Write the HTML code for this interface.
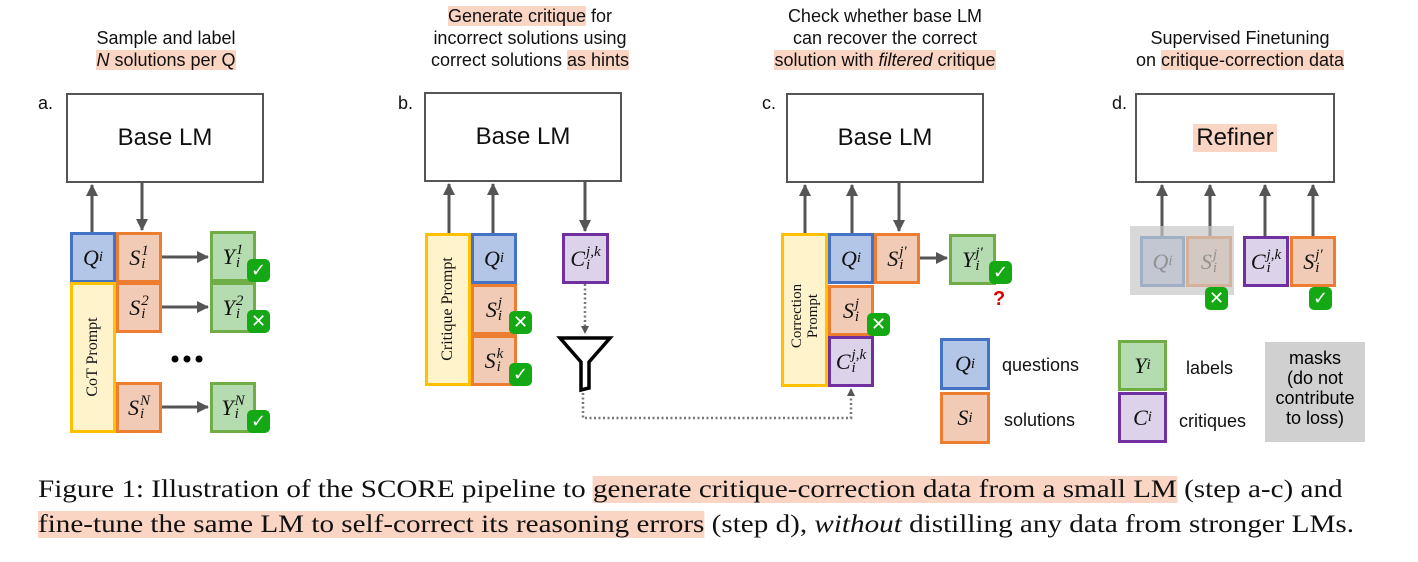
<!DOCTYPE html>
<html><head><meta charset="utf-8"><style>
body{margin:0;width:1418px;height:562px;background:#fff;position:relative;overflow:hidden;font-family:"Liberation Sans",sans-serif;}
.a{position:absolute;}
.t{position:absolute;font-size:18px;color:#111;text-align:center;line-height:22px;white-space:nowrap}
.h{background:#fbd5c4;}
.lm{position:absolute;box-sizing:border-box;border:2px solid #555;background:#fff;display:flex;align-items:center;justify-content:center;font-size:24px;color:#111}
.b{position:absolute;box-sizing:border-box;border:3px solid;display:flex;align-items:center;justify-content:center;font:italic 22px "Liberation Serif",serif;color:#111}
.q{background:#b4c6e7;border-color:#4472c4}
.s{background:#f1cbb5;border-color:#ed7d31}
.y{background:#b5dbb0;border-color:#70ad47}
.c{background:#dcd3ea;border-color:#7030a0}
.p{background:#fff3cc;border-color:#ffc000}
.st{display:inline-flex;flex-direction:column;font-size:15px;line-height:13px;margin-left:1px}
.ck{position:absolute;width:23px;height:23px;border-radius:5px;background:#14a814;color:#fff;font:bold 18px "DejaVu Sans",sans-serif;display:flex;align-items:center;justify-content:center}
.vt{position:absolute;font:16px "Liberation Serif",serif;color:#111;transform:rotate(-90deg);white-space:nowrap;text-align:center;line-height:18px}
.lg{position:absolute;font-size:18px;color:#111}
.cap{position:absolute;left:38px;font:25px "Liberation Serif",serif;color:#111;white-space:nowrap;transform-origin:0 0;transform:scaleX(1.165)}
sub{font-size:15px}
</style></head><body>

<div class="t" style="left:56px;top:27px;width:220px">Sample and label<br><span class="h"><i>N</i> solutions per Q</span></div>
<div class="t" style="left:400px;top:5px;width:260px"><span class="h">Generate critique</span> for<br>incorrect solutions using<br>correct solutions <span class="h">as hints</span></div>
<div class="t" style="left:750px;top:5px;width:270px">Check whether base LM<br>can recover the correct<br><span class="h">solution with <i>filtered</i> critique</span></div>
<div class="t" style="left:1110px;top:27px;width:260px">Supervised Finetuning<br>on <span class="h">critique-correction data</span></div>

<div class="t" style="left:38px;top:92px;font-size:18px">a.</div>
<div class="t" style="left:398px;top:92px;font-size:18px">b.</div>
<div class="t" style="left:762px;top:92px;font-size:18px">c.</div>
<div class="t" style="left:1112px;top:92px;font-size:18px">d.</div>

<div class="lm" style="left:66px;top:93px;width:198px;height:90px">Base LM</div>
<div class="lm" style="left:424px;top:92px;width:198px;height:90px">Base LM</div>
<div class="lm" style="left:786px;top:93px;width:198px;height:90px">Base LM</div>
<div class="lm" style="left:1135px;top:93px;width:200px;height:90px"><span class="h" style="padding:0 3px">Refiner</span></div>

<svg class="a" style="left:0;top:0" width="1418" height="562">
<defs><marker id="m" markerWidth="8" markerHeight="8" refX="7" refY="4" orient="auto" markerUnits="userSpaceOnUse"><path d="M0,0L8,4L0,8z" fill="#555"/></marker>
<marker id="M" markerWidth="12" markerHeight="12" refX="11" refY="6" orient="auto" markerUnits="userSpaceOnUse"><path d="M0,0L12,6L0,12z" fill="#555"/></marker></defs>
<g stroke="#555" stroke-width="3" fill="none">
<line x1="92" y1="232" x2="92" y2="185" marker-end="url(#M)"/>
<line x1="142" y1="183" x2="142" y2="230" marker-end="url(#M)"/>
<line x1="162" y1="257" x2="208" y2="257" marker-end="url(#M)"/>
<line x1="162" y1="307" x2="208" y2="307" marker-end="url(#M)"/>
<line x1="162" y1="407" x2="208" y2="407" marker-end="url(#M)"/>
<line x1="449" y1="233" x2="449" y2="184" marker-end="url(#M)"/>
<line x1="493" y1="233" x2="493" y2="184" marker-end="url(#M)"/>
<line x1="585" y1="182" x2="585" y2="231" marker-end="url(#M)"/>
<line x1="805" y1="233" x2="805" y2="185" marker-end="url(#M)"/>
<line x1="852" y1="233" x2="852" y2="185" marker-end="url(#M)"/>
<line x1="899" y1="183" x2="899" y2="231" marker-end="url(#M)"/>
<line x1="920" y1="258" x2="947" y2="258" marker-end="url(#M)"/>
<line x1="1162" y1="236" x2="1162" y2="185" marker-end="url(#M)"/>
<line x1="1210" y1="236" x2="1210" y2="185" marker-end="url(#M)"/>
<line x1="1265" y1="236" x2="1265" y2="185" marker-end="url(#M)"/>
<line x1="1313" y1="236" x2="1313" y2="185" marker-end="url(#M)"/>
</g>
<g stroke="#777" stroke-width="2.5" stroke-dasharray="2,2.5" fill="none">
<line x1="585" y1="284" x2="585" y2="333" marker-end="url(#m)"/>
<polyline points="583,393 583,418 851,418 851,389" marker-end="url(#m)"/>
</g>
<path d="M560,338 L610,338 L589,362 L589,388 L581,390 L581,362 Z" fill="#fff" stroke="#000" stroke-width="3.5" stroke-linejoin="miter"/>
<circle cx="175" cy="359" r="3.5" fill="#000"/><circle cx="187" cy="359" r="3.5" fill="#000"/><circle cx="199" cy="359" r="3.5" fill="#000"/>
</svg>

<div class="b q" style="left:70px;top:232px;width:46px;height:51px">Q<sub>i</sub></div>
<div class="b s" style="left:116px;top:232px;width:46px;height:51px">S<span class="st"><span>1</span><span>i</span></span></div>
<div class="b p" style="left:70px;top:282px;width:46px;height:151px"></div>
<div class="vt" style="left:33px;top:348px;width:120px">CoT Prompt</div>
<div class="b s" style="left:116px;top:282px;width:46px;height:51px">S<span class="st"><span>2</span><span>i</span></span></div>
<div class="b s" style="left:116px;top:382px;width:46px;height:51px">S<span class="st"><span>N</span><span>i</span></span></div>
<div class="b y" style="left:210px;top:231px;width:46px;height:51px">Y<span class="st"><span>1</span><span>i</span></span></div>
<div class="b y" style="left:210px;top:282px;width:46px;height:51px">Y<span class="st"><span>2</span><span>i</span></span></div>
<div class="b y" style="left:210px;top:382px;width:46px;height:51px">Y<span class="st"><span>N</span><span>i</span></span></div>
<div class="ck" style="left:247px;top:259px">✓</div>
<div class="ck" style="left:247px;top:310px">✕</div>
<div class="ck" style="left:247px;top:410px">✓</div>

<div class="b p" style="left:425px;top:233px;width:46px;height:153px"></div>
<div class="vt" style="left:388px;top:300px;width:120px">Critique Prompt</div>
<div class="b q" style="left:471px;top:233px;width:46px;height:51px">Q<sub>i</sub></div>
<div class="b s" style="left:471px;top:284px;width:46px;height:51px">S<span class="st"><span>j</span><span>i</span></span></div>
<div class="b s" style="left:471px;top:335px;width:46px;height:51px">S<span class="st"><span>k</span><span>i</span></span></div>
<div class="b c" style="left:562px;top:233px;width:47px;height:51px">C<span class="st"><span>j,k</span><span>i</span></span></div>
<div class="ck" style="left:509px;top:311px">✕</div>
<div class="ck" style="left:509px;top:363px">✓</div>

<div class="b p" style="left:781px;top:233px;width:47px;height:154px"></div>
<div class="vt" style="left:745px;top:300px;width:120px;font-size:15px;line-height:16px">Correction<br>Prompt</div>
<div class="b q" style="left:828px;top:233px;width:46px;height:51px">Q<sub>i</sub></div>
<div class="b s" style="left:874px;top:233px;width:46px;height:51px">S<span class="st"><span>j′</span><span>i</span></span></div>
<div class="b s" style="left:828px;top:285px;width:46px;height:51px">S<span class="st"><span>j</span><span>i</span></span></div>
<div class="b c" style="left:828px;top:336px;width:46px;height:51px">C<span class="st"><span>j,k</span><span>i</span></span></div>
<div class="b y" style="left:949px;top:234px;width:47px;height:51px">Y<span class="st"><span>j′</span><span>i</span></span></div>
<div class="ck" style="left:867px;top:313px">✕</div>
<div class="ck" style="left:989px;top:261px">✓</div>
<div class="a" style="left:993px;top:288px;color:#d00;font:bold 20px 'Liberation Sans',sans-serif">?</div>

<div class="b q" style="left:940px;top:338px;width:50px;height:52px">Q<sub>i</sub></div>
<div class="b s" style="left:940px;top:392px;width:50px;height:52px">S<sub>i</sub></div>
<div class="lg" style="left:1002px;top:355px">questions</div>
<div class="lg" style="left:1004px;top:410px">solutions</div>
<div class="b y" style="left:1118px;top:340px;width:49px;height:51px">Y<sub>i</sub></div>
<div class="b c" style="left:1118px;top:392px;width:49px;height:51px">C<sub>i</sub></div>
<div class="lg" style="left:1186px;top:358px">labels</div>
<div class="lg" style="left:1179px;top:411px">critiques</div>
<div class="a" style="left:1265px;top:342px;width:100px;height:100px;background:#d0d0d0;font-size:18px;text-align:center;line-height:20px;padding-top:6px;box-sizing:border-box">masks<br>(do not<br>contribute<br>to loss)</div>

<div class="b q" style="left:1140px;top:236px;width:45px;height:51px">Q<sub>i</sub></div>
<div class="b s" style="left:1186px;top:236px;width:46px;height:51px">S<span class="st"><span>j</span><span>i</span></span></div>
<div class="a" style="left:1130px;top:226px;width:104px;height:69px;background:rgba(200,200,200,0.7)"></div>
<div class="b c" style="left:1243px;top:236px;width:46px;height:51px">C<span class="st"><span>j,k</span><span>i</span></span></div>
<div class="b s" style="left:1290px;top:236px;width:46px;height:51px">S<span class="st"><span>j′</span><span>i</span></span></div>
<div class="ck" style="left:1205px;top:287px">✕</div>
<div class="ck" style="left:1309px;top:287px">✓</div>

<div class="cap" style="top:476px">Figure 1: Illustration of the SCORE pipeline to <span class="h">generate critique-correction data from a small LM</span> (step a-c) and</div>
<div class="cap" style="top:511px"><span class="h">fine-tune the same LM to self-correct its reasoning errors</span> (step d), <i>without</i> distilling any data from stronger LMs.</div>
</body></html>
